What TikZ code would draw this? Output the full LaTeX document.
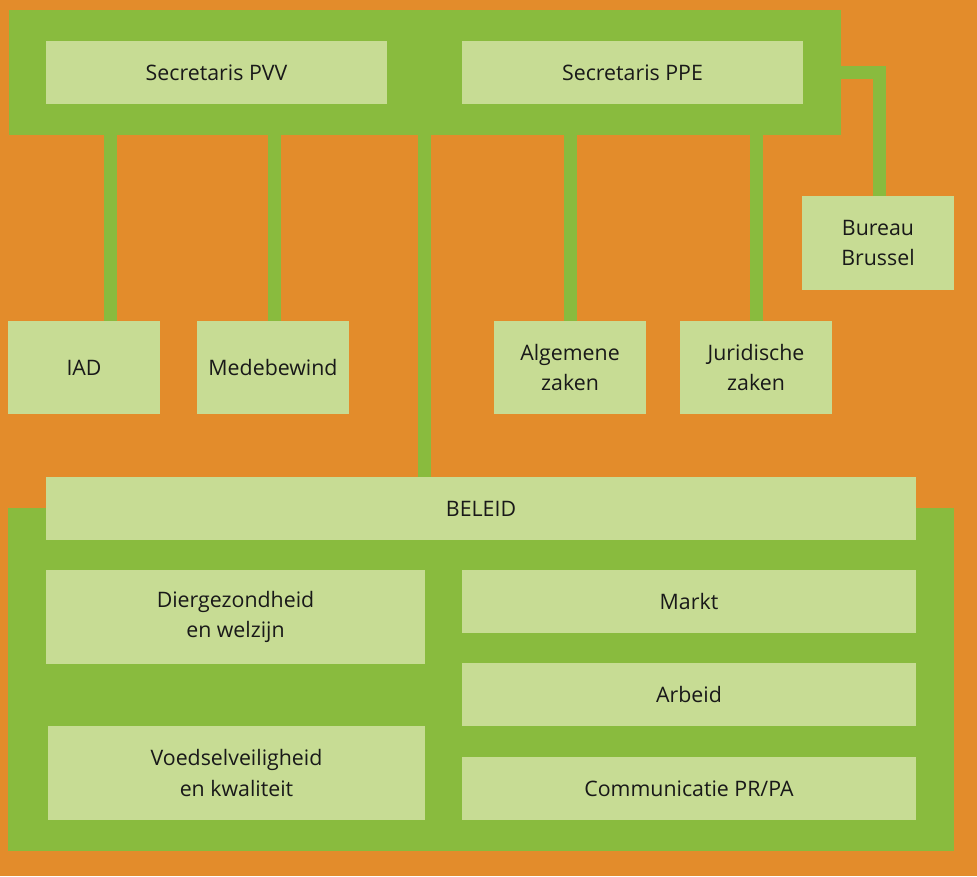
\documentclass[tikz,border=0pt]{standalone}
\usepackage{fontspec}
\setmainfont{Open Sans}
\definecolor{bgorange}{RGB}{227,140,43}
\definecolor{bandgreen}{RGB}{137,187,62}
\definecolor{boxgreen}{RGB}{199,220,148}
\definecolor{txt}{RGB}{25,25,25}
\tikzset{
  band/.style={fill=bandgreen, inner sep=0pt, draw=none},
  unit/.style={fill=boxgreen, inner sep=0pt, draw=none, align=center, text=txt,
    font=\fontsize{16pt}{23pt}\selectfont},
  conn/.style={draw=bandgreen, line width=9.75pt},
}
% \placebox[style]{name}{x1}{y1}{x2}{y2}{text}
\newcommand\placebox[7][unit]{%
  \pgfmathsetmacro\pbw{(#5-#3)*0.75}%
  \pgfmathsetmacro\pbh{(#6-#4)*0.75}%
  \node[#1, minimum width=\pbw pt, minimum height=\pbh pt] (#2) at ({(#3+#5)/2},{(#4+#6)/2}) {#7};%
}
\begin{document}
\begin{tikzpicture}[x=0.75pt,y=-0.75pt]
\fill[bgorange] (0,0) rectangle (977,876);
\useasboundingbox (0,0) rectangle (977,876);
% bands
\placebox[band]{top}{9}{10}{841}{135}{}
\placebox[band]{bottom}{8}{508}{954}{851}{}
% connector coordinates
\coordinate (c1) at (110.5,0);
\coordinate (c2) at (274,0);
\coordinate (c3) at (424.5,0);
\coordinate (c4) at (570,0);
\coordinate (c5) at (756,0);
\coordinate (c6) at (879.5,72.5);
% boxes
\placebox{pvv}{46}{41}{387}{104}{Secretaris PVV}
\placebox{ppe}{462}{41}{803}{104}{Secretaris PPE}
\placebox{brussel}{802}{196}{954}{290}{Bureau\\Brussel}
\placebox{iad}{8}{321}{160}{414}{IAD}
\placebox{mede}{197}{321}{349}{414}{Medebewind}
\placebox{alg}{494}{321}{646}{414}{Algemene\\zaken}
\placebox{jur}{680}{321}{832}{414}{Juridische\\zaken}
\placebox{beleid}{46}{477}{916}{540}{BELEID}
\placebox{dier}{46}{570}{425}{664}{Diergezondheid\\en welzijn}
\placebox{voed}{48}{726}{425}{820}{Voedselveiligheid\\en kwaliteit}
\placebox{markt}{462}{570}{916}{633}{Markt}
\placebox{arbeid}{462}{663}{916}{726}{Arbeid}
\placebox{comm}{462}{757}{916}{820}{Communicatie PR/PA}
% connectors
\draw[conn] (top.south -| c1) -- (iad.north -| c1);
\draw[conn] (top.south -| c2) -- (mede.north -| c2);
\draw[conn] (top.south -| c3) -- (beleid.north -| c3);
\draw[conn] (top.south -| c4) -- (alg.north -| c4);
\draw[conn] (top.south -| c5) -- (jur.north -| c5);
\draw[conn] (top.east |- c6) -- (c6) -- (brussel.north -| c6);
\end{tikzpicture}
\end{document}
